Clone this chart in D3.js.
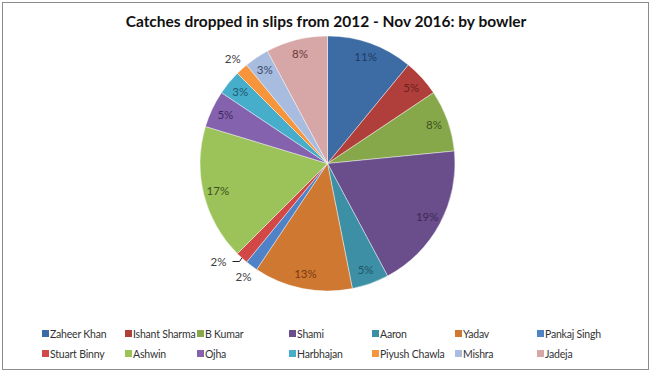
<!DOCTYPE html>
<html>
<head>
<meta charset="utf-8">
<script src="https://cdn.jsdelivr.net/npm/d3@7"></script>
<style>
  body { margin: 0; background: #fff; }
  svg { display: block; font-family: Lato, "Open Sans", sans-serif; }
</style>
</head>
<body>
<div id="chart"></div>
<script>
// 数据
let bowlers = ['Zaheer Khan', 'Ishant Sharma', 'B Kumar', 'Shami', 'Aaron', 'Yadav', 'Pankaj Singh',
  'Stuart Binny', 'Ashwin', 'Ojha', 'Harbhajan', 'Piyush Chawla', 'Mishra', 'Jadeja'];
let drops = [7, 3, 5, 12, 3, 8, 1, 1, 11, 3, 2, 1, 2, 5];
let sliceColors = ['#3d6ca5', '#b03e3b', '#87a84a', '#6a4d8b', '#3c8fa5', '#cf7832', '#4f82c7',
  '#d14847', '#9bc35a', '#8562ae', '#46adcb', '#f7953c', '#a8bcdf', '#d7a6a6'];
let labelColors = ['#1f3a62', '#6e1f1e', '#3f5220', '#3a2a55', '#1f5566', '#7a3a10', '#404040',
  '#404040', '#3c5020', '#3f2a60', '#1f5a70', '#404040', '#3a4a6a', '#6a3a3a'];

let width = 653;
let height = 375;
let cx = 327.5, cy = 163.5, r = 127.5;

const svg = d3.select('#chart').append('svg')
  .attr('width', width)
  .attr('height', height);

svg.append('rect')
  .attr('x', 2.5).attr('y', 2.5)
  .attr('width', 646).attr('height', 367)
  .attr('fill', '#fff')
  .attr('stroke', '#8c8c8c');

svg.append('text')
  .attr('x', 326).attr('y', 27)
  .attr('text-anchor', 'middle')
  .attr('font-size', 15.5)
  .attr('font-weight', 'bold')
  .attr('fill', '#111')
  .text('Catches dropped in slips from 2012 - Nov 2016: by bowler');

let total = d3.sum(drops);
let data = bowlers.map((b, i) => ({ name: b, value: drops[i], i }));

let pie = d3.pie().sort(null).value(d => d.value);
let arcs = pie(data);
let arc = d3.arc().innerRadius(0).outerRadius(r);

let g = svg.append('g').attr('transform', `translate(${cx},${cy})`);

g.selectAll('path')
  .data(arcs)
  .join('path')
  .attr('d', arc)
  .attr('fill', d => sliceColors[d.data.i])
  .attr('stroke', '#fff')
  .attr('stroke-opacity', 0.6)
  .attr('stroke-width', 0.7);

// 标签: 小扇区放外面
let inner = d3.arc().innerRadius(113).outerRadius(113);
let outer = d3.arc().innerRadius(141).outerRadius(141);
let pct = d => d3.format('.0%')(d.data.value / total);

g.selectAll('text.lbl')
  .data(arcs)
  .join('text')
  .attr('class', 'lbl')
  .attr('transform', d => {
    let p = d.data.value > 1 ? inner.centroid(d) : outer.centroid(d);
    if (d.data.name === 'Stuart Binny') p = [-109, 98];
    return `translate(${p})`;
  })
  .attr('dy', '0.35em')
  .attr('text-anchor', 'middle')
  .attr('font-size', 11.5)
  .attr('fill', d => labelColors[d.data.i])
  .text(pct);

// Stuart Binny 引导线
let sb = arcs[7];
let edge = d3.arc().innerRadius(r).outerRadius(r).centroid(sb);
g.append('path')
  .attr('d', d3.line()([[-95, 98], [-88, 98], edge]))
  .attr('fill', 'none')
  .attr('stroke', '#222')
  .attr('stroke-width', 1);

// 图例
let legendCols = [42, 125, 197, 289, 372, 455, 537];
let legend = svg.append('g');
let items = legend.selectAll('g')
  .data(data)
  .join('g')
  .attr('transform', d => `translate(${legendCols[d.i % 7]},${d.i < 7 ? 334 : 354})`);

items.append('rect')
  .attr('x', 0).attr('y', -4)
  .attr('width', 7).attr('height', 7)
  .attr('fill', d => sliceColors[d.i]);

items.append('text')
  .attr('x', 8).attr('y', 0)
  .attr('dy', '0.35em')
  .attr('font-size', 10.5)
  .attr('letter-spacing', -0.2)
  .attr('fill', '#333')
  .text(d => d.name);
</script>
</body>
</html>
